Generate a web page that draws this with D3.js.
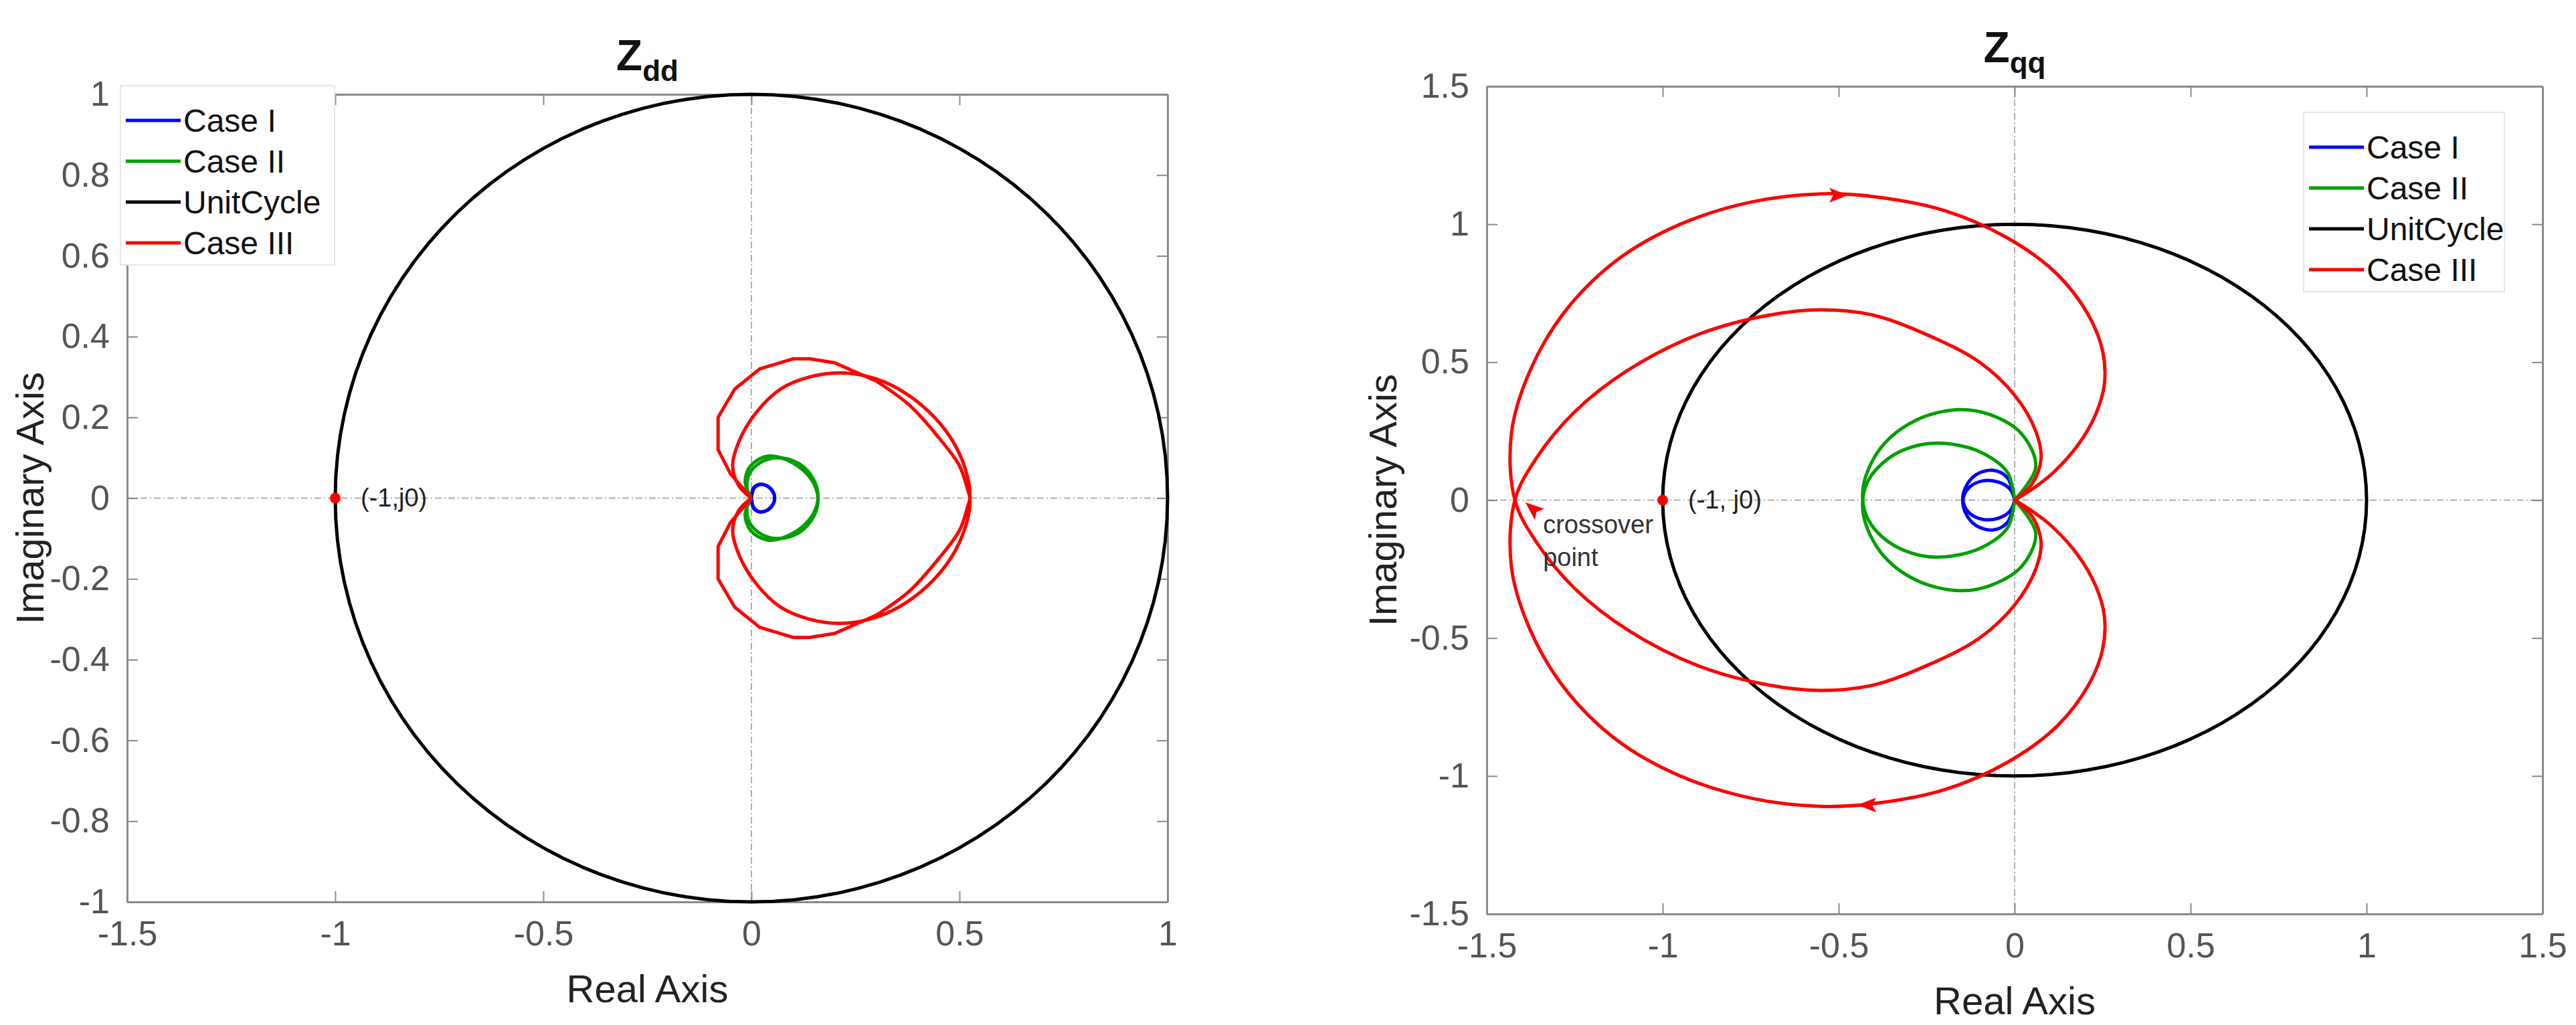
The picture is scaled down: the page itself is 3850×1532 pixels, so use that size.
<!DOCTYPE html>
<html><head><meta charset="utf-8">
<script src="https://cdn.jsdelivr.net/npm/d3@7"></script>
<style>body{margin:0;background:#fff}svg{display:block}</style>
</head><body>
<svg id="c" width="3850" height="1532"></svg>
<script>
// ---------- data ----------
const legendLabels = ["Case I","Case II","UnitCycle","Case III"];
const seriesColors = ["#0000ff","#00a000","#000000","#ff0000"];
const leftXTicks = [-1.5,-1,-0.5,0,0.5,1];
const leftYTicks = [-1,-0.8,-0.6,-0.4,-0.2,0,0.2,0.4,0.6,0.8,1];
const rightXTicks = [-1.5,-1,-0.5,0,0.5,1,1.5];
const rightYTicks = [-1.5,-1,-0.5,0,0.5,1,1.5];

// Zdd positive-frequency branches (mirrored for negative frequency)
const zddCase1 = [[0,0],[0.005,0.025],[0.02,0.034],[0.038,0.03],[0.052,0.015],[0.056,0],[0.052,-0.016],[0.038,-0.03],[0.02,-0.034],[0.006,-0.024],[0,0]];
const zddCase2 = [[0,0],[-0.015,0.04],[-0.002,0.08],[0.04,0.104],[0.1,0.087],[0.145,0.045],[0.16,0],[0.15,-0.045],[0.115,-0.085],[0.065,-0.1],[0.025,-0.09],[-0.005,-0.06],[-0.01,-0.02],[0,0]];
const zddCase3Jagged = [[0,0],[-0.05,0.06],[-0.08,0.12],[-0.08,0.2],[-0.04,0.27],[0.02,0.32],[0.1,0.345],[0.14,0.345],[0.2,0.335],[0.3,0.29]];
const zddCase3Smooth = [[0.3,0.29],[0.38,0.23],[0.45,0.15],[0.5,0.08],[0.52,0.02],[0.525,0],[0.52,-0.05],[0.49,-0.13],[0.44,-0.2],[0.37,-0.26],[0.3,-0.295],[0.22,-0.31],[0.14,-0.3],[0.07,-0.27],[0.01,-0.21],[-0.03,-0.14],[-0.045,-0.08],[-0.03,-0.03],[0,0]];
// Zqq
const zqqCase1 = [[0,0],[-0.02,0.08],[-0.06,0.108],[-0.11,0.092],[-0.14,0.045],[-0.147,0],[-0.13,-0.045],[-0.09,-0.07],[-0.045,-0.065],[-0.012,-0.038],[0,0]];
const zqqCase2 = [[0,0],[0.06,0.12],[0.02,0.24],[-0.07,0.31],[-0.16,0.328],[-0.28,0.29],[-0.38,0.19],[-0.43,0.05],[-0.42,-0.06],[-0.36,-0.15],[-0.27,-0.2],[-0.18,-0.203],[-0.09,-0.17],[-0.02,-0.1],[0,0]];
const zqqCase3 = [[0,0],[0.05,0.04],[0.11,0.1],[0.18,0.2],[0.23,0.31],[0.255,0.42],[0.25,0.54],[0.21,0.67],[0.12,0.82],[-0.02,0.95],[-0.2,1.05],[-0.4,1.1],[-0.55,1.11],[-0.75,1.08],[-0.95,1.0],[-1.13,0.87],[-1.28,0.68],[-1.38,0.46],[-1.43,0.24],[-1.42,0],[-1.36,-0.15],[-1.25,-0.32],[-1.1,-0.47],[-0.9,-0.6],[-0.7,-0.67],[-0.55,-0.69],[-0.4,-0.67],[-0.25,-0.6],[-0.1,-0.5],[0.0,-0.38],[0.06,-0.25],[0.075,-0.15],[0.05,-0.06],[0,0]];
const unitAngles = d3.range(0,361,3);

// ---------- drawing ----------
const svg = d3.select("#c");
const mirror = a => a.map(([x,y])=>[x,-y]);
const unit = unitAngles.map(a=>[Math.cos(a*Math.PI/180),Math.sin(a*Math.PI/180)]);
const FF = "Arial, Liberation Sans, sans-serif";

function panel(o){
  const x = d3.scaleLinear().domain(o.xd).range([o.l,o.r]);
  const y = d3.scaleLinear().domain(o.yd).range([o.b,o.t]);
  const g = svg.append("g");
  g.append("line").attr("x1",o.l).attr("x2",o.r).attr("y1",y(0)).attr("y2",y(0))
   .attr("stroke","#b0b0b0").attr("stroke-width",2).attr("stroke-dasharray","10,4,2,4");
  g.append("line").attr("y1",o.t).attr("y2",o.b).attr("x1",x(0)).attr("x2",x(0))
   .attr("stroke","#b0b0b0").attr("stroke-width",2).attr("stroke-dasharray","10,4,2,4");
  const tick = 16;
  const ax = (gen,tr)=>{const a=g.append("g").attr("transform",tr).call(gen);
    a.select(".domain").attr("stroke","#8a8a8a").attr("stroke-width",3);
    a.selectAll(".tick line").attr("stroke","#8a8a8a").attr("stroke-width",2);
    a.selectAll("text").attr("font-family",FF).attr("font-size",52).attr("fill","#555");
    return a;};
  const fmt = d=>String(d);
  ax(d3.axisBottom(x).tickValues(o.xt).tickFormat(fmt).tickSizeInner(-tick).tickSizeOuter(0).tickPadding(28),`translate(0,${o.b})`);
  ax(d3.axisTop(x).tickValues(o.xt).tickFormat("").tickSizeInner(-tick).tickSizeOuter(0),`translate(0,${o.t})`);
  ax(d3.axisLeft(y).tickValues(o.yt).tickFormat(fmt).tickSizeInner(-tick).tickSizeOuter(0).tickPadding(26),`translate(${o.l},0)`);
  ax(d3.axisRight(y).tickValues(o.yt).tickFormat("").tickSizeInner(-tick).tickSizeOuter(0),`translate(${o.r},0)`);
  const smooth = d3.line().x(d=>x(d[0])).y(d=>y(d[1])).curve(d3.curveCatmullRom);
  const lin = d3.line().x(d=>x(d[0])).y(d=>y(d[1]));
  const draw=(data,col,gen)=>g.append("path").attr("d",gen(data)).attr("fill","none").attr("stroke",col).attr("stroke-width",5).attr("stroke-linejoin","round");
  draw(unit,seriesColors[2],lin);
  o.series.forEach(s=>{const gen=s.lin?lin:smooth;draw(s.d,seriesColors[s.c],gen);draw(mirror(s.d),seriesColors[s.c],gen);});
  g.append("circle").attr("cx",x(-1)).attr("cy",y(0)).attr("r",8).attr("fill","#ff0000");
  g.append("text").attr("x",x(-1)+38).attr("y",y(0)+12).attr("font-family",FF).attr("font-size",38).attr("fill","#222").text(o.crit);
  const tt = g.append("text").attr("x",(o.l+o.r)/2).attr("y",o.t-36).attr("text-anchor","middle")
    .attr("font-family",FF).attr("font-weight","bold").attr("font-size",64).attr("fill","#111");
  tt.append("tspan").text("Z");
  tt.append("tspan").attr("font-size",44).attr("dy",16).text(o.sub);
  g.append("text").attr("x",(o.l+o.r)/2).attr("y",o.b+150).attr("text-anchor","middle")
    .attr("font-family",FF).attr("font-size",58).attr("fill","#222").text("Real Axis");
  g.append("text").attr("transform",`translate(${o.l-o.ylab},${(o.t+o.b)/2}) rotate(-90)`).attr("text-anchor","middle")
    .attr("font-family",FF).attr("font-size",58).attr("fill","#222").text("Imaginary Axis");
  const L = o.leg;
  const lg = g.append("g").attr("transform",`translate(${L[0]},${L[1]})`);
  lg.append("rect").attr("width",L[2]).attr("height",268).attr("fill","#fff").attr("stroke","#e6e6e6").attr("stroke-width",2);
  legendLabels.forEach((t,i)=>{
    const yy = 52+i*61;
    lg.append("line").attr("x1",8).attr("x2",90).attr("y1",yy).attr("y2",yy).attr("stroke",seriesColors[i]).attr("stroke-width",5);
    lg.append("text").attr("x",94).attr("y",yy+17).attr("font-family",FF).attr("font-size",48).attr("fill","#111").text(t);
  });
  return {g,x,y};
}

panel({l:190,r:1745,t:141,b:1348,xd:[-1.5,1],yd:[-1,1],xt:leftXTicks,yt:leftYTicks,sub:"dd",crit:"(-1,j0)",ylab:125,
  leg:[180,128,320],
  series:[{d:zddCase1,c:0},{d:zddCase2,c:1},{d:zddCase3Jagged,c:3,lin:true},{d:zddCase3Smooth,c:3}]});

const R = panel({l:2222,r:3800,t:129,b:1366,xd:[-1.5,1.5],yd:[-1.5,1.5],xt:rightXTicks,yt:rightYTicks,sub:"qq",crit:"(-1, j0)",ylab:135,
  leg:[3443,168,300],
  series:[{d:zqqCase1,c:0},{d:zqqCase2,c:1},{d:zqqCase3,c:3}]});

const arrow = (px,py,ang)=>R.g.append("path").attr("d","M14,0 L-14,-11 L-8,0 L-14,11 Z").attr("fill","#ff0000")
  .attr("transform",`translate(${R.x(px)},${R.y(py)}) rotate(${ang})`);
arrow(-0.5,1.105,0);
arrow(-0.42,-1.105,180);
arrow(-1.37,-0.03,-140);
const ct = R.g.append("text").attr("font-family",FF).attr("font-size",38).attr("fill","#333");
ct.append("tspan").attr("x",R.x(-1.34)).attr("y",R.y(-0.12)).text("crossover");
ct.append("tspan").attr("x",R.x(-1.34)).attr("y",R.y(-0.24)).text("point");
</script>
</body></html>
